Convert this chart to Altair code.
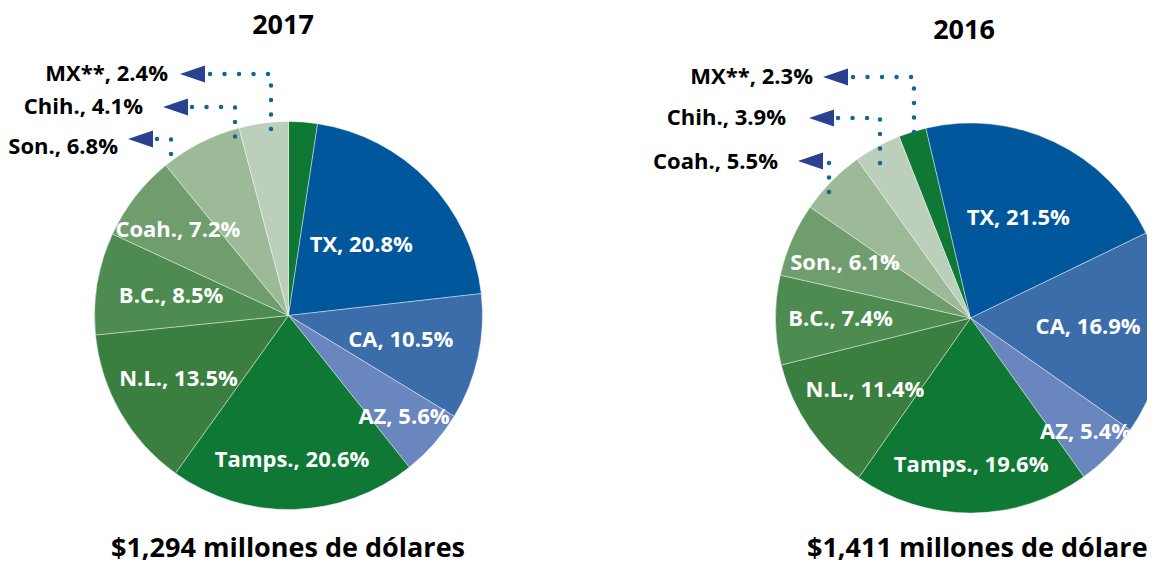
import math
import altair as alt
import pandas as pd

# ---------------- data ----------------
years = ["2017", "2016"]
totals = ["$1,294 millones de dólares", "$1,411 millones de dólares"]

states_2017 = ["MX**", "TX", "CA", "AZ", "Tamps.", "N.L.", "B.C.", "Coah.", "Son.", "Chih."]
share_2017 = [2.4, 20.8, 10.5, 5.6, 20.6, 13.5, 8.5, 7.2, 6.8, 4.1]
outside_2017 = ["MX**", "Chih.", "Son."]

states_2016 = ["MX**", "TX", "CA", "AZ", "Tamps.", "N.L.", "B.C.", "Son.", "Coah.", "Chih."]
share_2016 = [2.3, 21.5, 16.9, 5.4, 19.6, 11.4, 7.4, 6.1, 5.5, 3.9]
outside_2016 = ["MX**", "Chih.", "Coah."]

# ---------------- styling / layout ----------------
W, H = 1139, 555
FONT = "Open Sans"
slice_colors = ["#0E7834", "#01579B", "#3B6DAA", "#6A86BE", "#0E7834",
                "#3A7F40", "#4D8B51", "#6F9D6D", "#9CBA98", "#BBCFBA"]
DOT_COLOR = "#11698C"
ARROW_COLOR = "#2A4190"
ARROW_PATH = "M-1,0L1,-0.68L1,0.68Z"
LABEL_SIZE = 22

layout = [
    dict(year=years[0], total=totals[0], states=states_2017, shares=share_2017,
         outside=outside_2017, cx=280.5, cy=307.5, r=194, start=0.0,
         label_r=[0, 101, 115, 154, 145, 127, 119, 140, 0, 0],
         title_xy=(275, 18), sub_xy=(280, 541),
         callouts=[  # label, text(x,y), arrow(x,y), dotted path
             ("MX**", (160, 66), (184.5, 66), [(202, 66), (263, 66), (263, 130)]),
             ("Chih.", (135, 99), (167.5, 99), [(184, 99), (227, 99), (227, 132)]),
             ("Son.", (110, 139), (132.5, 131), [(149, 131), (163, 131), (163, 149)]),
         ]),
    dict(year=years[1], total=totals[1], states=states_2016, shares=share_2016,
         outside=outside_2016, cx=962.5, cy=310, r=195, start=-21.5,
         label_r=[0, 111, 118, 162, 147, 128, 130, 137, 0, 0],
         title_xy=(956, 23), sub_xy=(976, 541),
         callouts=[
             ("MX**", (805, 69), (827.5, 69), [(845, 69), (906, 69), (906, 135)]),
             ("Chih.", (778, 110), (813.5, 110), [(830, 110), (872, 110), (872, 156)]),
             ("Coah.", (770, 154), (802.5, 153), [(821, 155), (821, 187)]),
         ]),
]

xs = alt.Scale(domain=[0, W], range=[0, W])
ys = alt.Scale(domain=[0, H], range=[0, H])

layers = []
for p in layout:
    rows = []
    for i, (s, v) in enumerate(zip(p["states"], p["shares"])):
        lab = f"{s}, {v:.1f}%"
        rows.append(dict(pos=i, state=s, share=v, color=slice_colors[i],
                         inside="" if s in p["outside"] else lab,
                         lr=p["label_r"][i]))
    df = pd.DataFrame(rows)
    total = float(sum(p["shares"]))
    start = math.radians(p["start"])
    tscale = alt.Scale(domain=[0, total], range=[start, start + 2 * math.pi])
    base = alt.Chart(df).transform_window(
        cum="sum(share)", sort=[alt.SortField("pos", order="ascending")],
        frame=[None, 0],
    ).transform_calculate(
        t0="datum.cum - datum.share", tmid="datum.cum - datum.share / 2"
    )
    arc = base.mark_arc(radius=p["r"], stroke="#ffffff", strokeWidth=0.7,
                        strokeOpacity=0.6).encode(
        theta=alt.Theta("t0:Q", scale=tscale, stack=None),
        theta2="cum:Q",
        x=alt.value(p["cx"]), y=alt.value(p["cy"]),
        color=alt.Color("color:N", scale=None))
    txt = base.mark_text(font=FONT, fontWeight="bold", fontSize=LABEL_SIZE,
                         color="white", align="center", baseline="middle").encode(
        theta=alt.Theta("tmid:Q", scale=tscale, stack=None),
        x=alt.value(p["cx"]), y=alt.value(p["cy"]),
        radius=alt.Radius("lr:Q", scale=None),
        text="inside:N")
    layers += [arc, txt]

    # callouts
    value_of = dict(zip(p["states"], p["shares"]))
    crow, arow, lrow = [], [], []
    for k, (name, (tx, ty), (ax, ay), path) in enumerate(p["callouts"]):
        crow.append(dict(x=tx, y=ty, t=f"{name}, {value_of[name]:.1f}%"))
        arow.append(dict(x=ax, y=ay))
        for j, (px, py) in enumerate(path):
            lrow.append(dict(id=f"{p['year']}-{k}", seq=j, x=px, y=py))
    lines = alt.Chart(pd.DataFrame(lrow)).mark_line(
        strokeDash=[0.01, 14.5], strokeCap="round", strokeWidth=4.5,
        color=DOT_COLOR).encode(
        x=alt.X("x:Q", scale=xs, axis=None), y=alt.Y("y:Q", scale=ys, axis=None),
        detail="id:N", order="seq:Q")
    arrows = alt.Chart(pd.DataFrame(arow)).mark_point(
        shape=ARROW_PATH, size=625, filled=True, opacity=1,
        color=ARROW_COLOR).encode(
        x=alt.X("x:Q", scale=xs, axis=None), y=alt.Y("y:Q", scale=ys, axis=None))
    otext = alt.Chart(pd.DataFrame(crow)).mark_text(
        font=FONT, fontWeight="bold", fontSize=LABEL_SIZE, color="black",
        align="right", baseline="middle").encode(
        x=alt.X("x:Q", scale=xs, axis=None), y=alt.Y("y:Q", scale=ys, axis=None),
        text="t:N")
    ttl = alt.Chart(pd.DataFrame([dict(x=p["title_xy"][0], y=p["title_xy"][1], t=p["year"])])).mark_text(
        font=FONT, fontWeight="bold", fontSize=27, color="black",
        align="center", baseline="middle").encode(
        x=alt.X("x:Q", scale=xs, axis=None), y=alt.Y("y:Q", scale=ys, axis=None), text="t:N")
    sub = alt.Chart(pd.DataFrame([dict(x=p["sub_xy"][0], y=p["sub_xy"][1], t=p["total"])])).mark_text(
        font=FONT, fontWeight="bold", fontSize=27, color="black",
        align="center", baseline="middle").encode(
        x=alt.X("x:Q", scale=xs, axis=None), y=alt.Y("y:Q", scale=ys, axis=None), text="t:N")
    layers += [lines, arrows, otext, ttl, sub]

chart = alt.layer(*layers).resolve_scale(theta="independent").properties(
    width=W, height=H, padding=0,
    autosize=alt.AutoSizeParams(type="none"),
).configure_view(stroke=None)

chart.save("out.html", embed_options={"renderer": "svg", "actions": False})
